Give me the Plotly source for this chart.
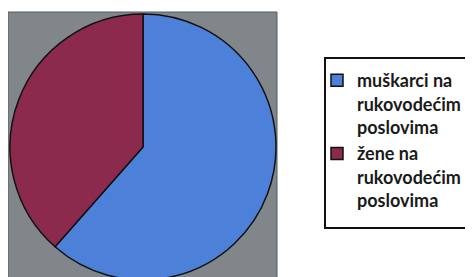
import plotly.graph_objects as go

labels = ["muškarci na<br>rukovodećim<br>poslovima", "žene na<br>rukovodećim<br>poslovima"]
values = [61.5, 38.5]
colors = ["#4d80d8", "#8c2a4e"]

W, H = 473, 277


def px(x):
    return x / W


def py(y):
    return 1 - y / H


fig = go.Figure()
fig.add_trace(go.Pie(
    labels=labels,
    values=values,
    sort=False,
    direction="clockwise",
    rotation=0,
    textinfo="none",
    hoverinfo="label+percent",
    marker=dict(colors=colors, line=dict(color="#111111", width=1.5)),
    domain=dict(x=[px(2), px(268)], y=[py(272), py(6)]),
))

# grey plot background square
fig.add_shape(type="rect", xref="paper", yref="paper",
              x0=px(0), x1=px(269), y0=0, y1=py(4),
              fillcolor="#80868a", line=dict(color="#555a5e", width=1), layer="below")
# legend frame
fig.add_shape(type="rect", xref="paper", yref="paper",
              x0=px(317), x1=px(460), y0=py(220), y1=py(50),
              fillcolor="white", line=dict(color="#111111", width=2), layer="below")

fig.update_layout(
    width=W, height=H,
    margin=dict(l=0, r=0, t=0, b=0, autoexpand=False),
    paper_bgcolor="white",
    plot_bgcolor="white",
    showlegend=True,
    legend=dict(
        x=px(309), y=py(54), xanchor="left", yanchor="top",
        bgcolor="rgba(0,0,0,0)", borderwidth=0,
        font=dict(family="Lato", size=18, color="#1a1a1a", weight="bold"),
        valign="top", itemwidth=30,
    ),
)

fig.write_html("out.html")
